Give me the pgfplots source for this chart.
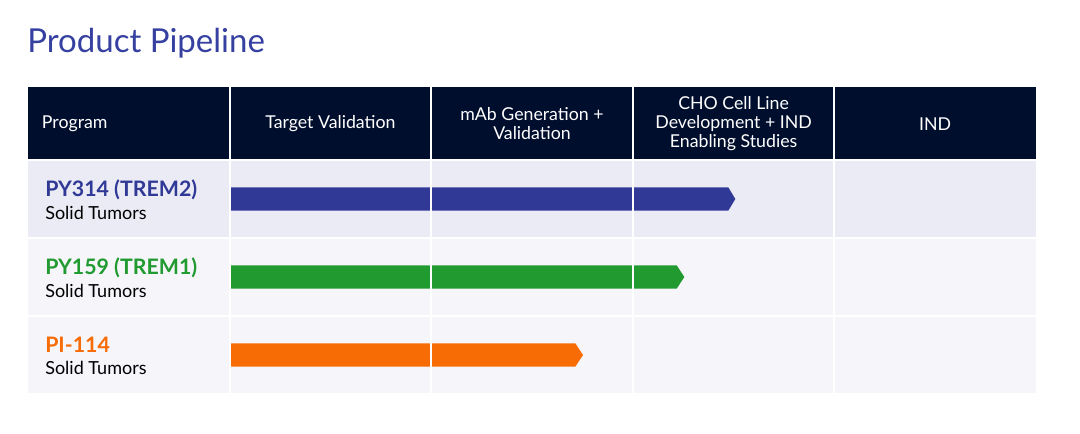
\documentclass[border=0pt]{standalone}
\usepackage{fontspec}
\setmainfont{Lato}
\usepackage{pgfplots}
\pgfplotsset{compat=1.18}
\definecolor{navy}{HTML}{000E2E}
\definecolor{rowA}{HTML}{EBEBF5}
\definecolor{rowB}{HTML}{F5F5FA}
\definecolor{pyblue}{HTML}{303A96}
\definecolor{pygreen}{HTML}{219A30}
\definecolor{pyorange}{HTML}{F76C04}
\definecolor{titleblue}{HTML}{3540A0}
\begin{document}
\begin{tikzpicture}
\begin{axis}[
  width=810pt, height=325.5pt, scale only axis, hide axis, clip=false,
  xmin=-1.13889, xmax=4.21825, ymin=0, ymax=434, y dir=reverse,
]
% table backgrounds
\fill[navy] (axis cs:-1,87) rectangle (axis cs:4,159);
\fill[rowA] (axis cs:-1,161) rectangle (axis cs:4,237);
\fill[rowB] (axis cs:-1,239) rectangle (axis cs:4,315);
\fill[rowB] (axis cs:-1,317) rectangle (axis cs:4,393);

% bars (stage reached: 1 unit = 1 stage column)
\addplot[fill=pyblue, draw=none] coordinates {(0,187.3) (2.4737,187.3) (2.5084,199) (2.4737,210.7) (0,210.7)} -- cycle;
\addplot[fill=pygreen, draw=none] coordinates {(0,265.3) (2.2177,265.3) (2.2555,277) (2.2177,288.7) (0,288.7)} -- cycle;
\addplot[fill=pyorange, draw=none] coordinates {(0,343.3) (1.7148,343.3) (1.7530,355) (1.7148,366.7) (0,366.7)} -- cycle;

% column separators
\draw[white, line width=1.5pt] (axis cs:0,85) -- (axis cs:0,395);
\draw[white, line width=1.5pt] (axis cs:1,85) -- (axis cs:1,395);
\draw[white, line width=1.5pt] (axis cs:2,85) -- (axis cs:2,395);
\draw[white, line width=1.5pt] (axis cs:3,85) -- (axis cs:3,395);

% title
\node[anchor=base west, text=titleblue, font=\fontsize{24.75}{30}\selectfont, inner sep=0pt] at (axis cs:-1.005,53) {Product Pipeline};

% header
\node[anchor=west, text=white, font=\fontsize{13.3}{14.25}\selectfont, inner sep=0pt] at (axis cs:-0.932,124) {Program};
\node[align=center, text=white, font=\fontsize{13.3}{14.25}\selectfont, inner sep=0pt] at (axis cs:0.5,124) {Target Validation};
\node[align=center, text=white, font=\fontsize{13.3}{14.25}\selectfont, inner sep=0pt] at (axis cs:1.5,124) {mAb Generation +\\Validation};
\node[align=center, text=white, font=\fontsize{13.3}{14.25}\selectfont, inner sep=0pt] at (axis cs:2.5,124) {CHO Cell Line\\Development + IND\\Enabling Studies};
\node[align=center, text=white, font=\fontsize{13.3}{14.25}\selectfont, inner sep=0pt] at (axis cs:3.5,124) {IND};

% row labels
\node[anchor=base west, text=pyblue, font=\fontsize{16}{18}\selectfont\bfseries, inner sep=0pt] at (axis cs:-0.9157,196.7) {PY314 (TREM2)};
\node[anchor=base west, text=black, font=\fontsize{13.5}{15}\selectfont, inner sep=0pt] at (axis cs:-0.9157,219.5) {Solid Tumors};
\node[anchor=base west, text=pygreen, font=\fontsize{16}{18}\selectfont\bfseries, inner sep=0pt] at (axis cs:-0.9157,274.5) {PY159 (TREM1)};
\node[anchor=base west, text=black, font=\fontsize{13.5}{15}\selectfont, inner sep=0pt] at (axis cs:-0.9157,297.5) {Solid Tumors};
\node[anchor=base west, text=pyorange, font=\fontsize{16}{18}\selectfont\bfseries, inner sep=0pt] at (axis cs:-0.9157,352) {PI-114};
\node[anchor=base west, text=black, font=\fontsize{13.5}{15}\selectfont, inner sep=0pt] at (axis cs:-0.9157,374.5) {Solid Tumors};
\end{axis}
\pgfresetboundingbox
\path (current axis.south west) rectangle (current axis.north east);
\end{tikzpicture}
\end{document}
